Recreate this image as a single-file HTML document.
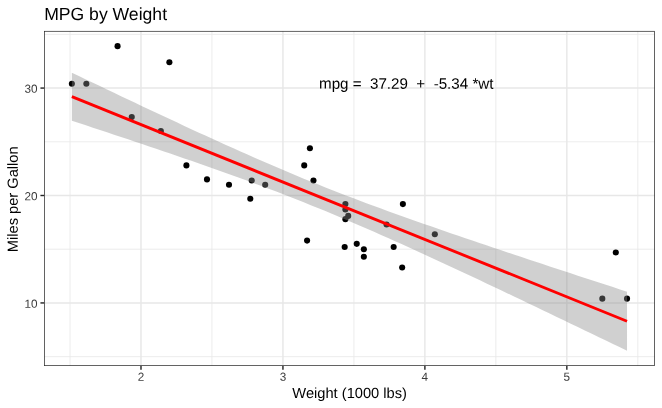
<!DOCTYPE html>
<html><head><meta charset="utf-8"><title>MPG by Weight</title>
<style>html,body{margin:0;padding:0;background:#fff;width:662px;height:408px;overflow:hidden}svg{display:block;will-change:transform;text-rendering:geometricPrecision}</style>
</head><body>
<svg width="662" height="408" viewBox="0 0 662 408" font-family="Liberation Sans, Arial, sans-serif"><rect x="0" y="0" width="662" height="408" fill="#fff"/>
<line x1="70.01" y1="30.94" x2="70.01" y2="366.00" stroke="#E7E7E7" stroke-width="0.8"/>
<line x1="211.96" y1="30.94" x2="211.96" y2="366.00" stroke="#E7E7E7" stroke-width="0.8"/>
<line x1="353.91" y1="30.94" x2="353.91" y2="366.00" stroke="#E7E7E7" stroke-width="0.8"/>
<line x1="495.86" y1="30.94" x2="495.86" y2="366.00" stroke="#E7E7E7" stroke-width="0.8"/>
<line x1="637.81" y1="30.94" x2="637.81" y2="366.00" stroke="#E7E7E7" stroke-width="0.8"/>
<line x1="44.10" y1="356.65" x2="654.78" y2="356.65" stroke="#E7E7E7" stroke-width="0.8"/>
<line x1="44.10" y1="249.22" x2="654.78" y2="249.22" stroke="#E7E7E7" stroke-width="0.8"/>
<line x1="44.10" y1="141.79" x2="654.78" y2="141.79" stroke="#E7E7E7" stroke-width="0.8"/>
<line x1="44.10" y1="34.35" x2="654.78" y2="34.35" stroke="#E7E7E7" stroke-width="0.8"/>
<line x1="140.99" y1="30.94" x2="140.99" y2="366.00" stroke="#E7E7E7" stroke-width="1.42"/>
<line x1="282.94" y1="30.94" x2="282.94" y2="366.00" stroke="#E7E7E7" stroke-width="1.42"/>
<line x1="424.89" y1="30.94" x2="424.89" y2="366.00" stroke="#E7E7E7" stroke-width="1.42"/>
<line x1="566.84" y1="30.94" x2="566.84" y2="366.00" stroke="#E7E7E7" stroke-width="1.42"/>
<line x1="44.10" y1="302.94" x2="654.78" y2="302.94" stroke="#E7E7E7" stroke-width="1.42"/>
<line x1="44.10" y1="195.50" x2="654.78" y2="195.50" stroke="#E7E7E7" stroke-width="1.42"/>
<line x1="44.10" y1="88.07" x2="654.78" y2="88.07" stroke="#E7E7E7" stroke-width="1.42"/>
<circle cx="229.00" cy="184.76" r="3.05" fill="#000"/>
<circle cx="265.19" cy="184.76" r="3.05" fill="#000"/>
<circle cx="186.41" cy="165.42" r="3.05" fill="#000"/>
<circle cx="313.46" cy="180.46" r="3.05" fill="#000"/>
<circle cx="345.39" cy="209.47" r="3.05" fill="#000"/>
<circle cx="348.23" cy="215.91" r="3.05" fill="#000"/>
<circle cx="363.85" cy="256.74" r="3.05" fill="#000"/>
<circle cx="309.91" cy="148.23" r="3.05" fill="#000"/>
<circle cx="304.23" cy="165.42" r="3.05" fill="#000"/>
<circle cx="345.39" cy="204.10" r="3.05" fill="#000"/>
<circle cx="345.39" cy="219.14" r="3.05" fill="#000"/>
<circle cx="434.82" cy="234.18" r="3.05" fill="#000"/>
<circle cx="386.56" cy="224.51" r="3.05" fill="#000"/>
<circle cx="393.66" cy="247.07" r="3.05" fill="#000"/>
<circle cx="602.32" cy="298.64" r="3.05" fill="#000"/>
<circle cx="627.02" cy="298.64" r="3.05" fill="#000"/>
<circle cx="615.81" cy="252.44" r="3.05" fill="#000"/>
<circle cx="169.38" cy="62.28" r="3.05" fill="#000"/>
<circle cx="86.34" cy="83.77" r="3.05" fill="#000"/>
<circle cx="117.57" cy="46.17" r="3.05" fill="#000"/>
<circle cx="206.99" cy="179.39" r="3.05" fill="#000"/>
<circle cx="356.75" cy="243.85" r="3.05" fill="#000"/>
<circle cx="344.68" cy="247.07" r="3.05" fill="#000"/>
<circle cx="402.17" cy="267.48" r="3.05" fill="#000"/>
<circle cx="402.88" cy="204.10" r="3.05" fill="#000"/>
<circle cx="131.76" cy="117.08" r="3.05" fill="#000"/>
<circle cx="160.86" cy="131.04" r="3.05" fill="#000"/>
<circle cx="71.86" cy="83.77" r="3.05" fill="#000"/>
<circle cx="307.07" cy="240.62" r="3.05" fill="#000"/>
<circle cx="250.29" cy="198.72" r="3.05" fill="#000"/>
<circle cx="363.85" cy="249.22" r="3.05" fill="#000"/>
<circle cx="251.71" cy="180.46" r="3.05" fill="#000"/>
<polygon points="71.86,72.66 78.89,76.03 85.91,79.40 92.94,82.76 99.97,86.11 107.00,89.47 114.02,92.81 121.05,96.15 128.08,99.49 135.10,102.82 142.13,106.14 149.16,109.45 156.19,112.76 163.21,116.05 170.24,119.34 177.27,122.62 184.30,125.88 191.32,129.14 198.35,132.38 205.38,135.61 212.41,138.82 219.43,142.01 226.46,145.19 233.49,148.35 240.52,151.49 247.54,154.61 254.57,157.71 261.60,160.78 268.63,163.82 275.65,166.84 282.68,169.83 289.71,172.80 296.73,175.73 303.76,178.63 310.79,181.50 317.82,184.34 324.84,187.15 331.87,189.93 338.90,192.68 345.93,195.40 352.95,198.09 359.98,200.75 367.01,203.38 374.04,205.99 381.06,208.58 388.09,211.14 395.12,213.68 402.15,216.21 409.17,218.71 416.20,221.20 423.23,223.67 430.25,226.12 437.28,228.56 444.31,230.99 451.34,233.41 458.36,235.82 465.39,238.21 472.42,240.60 479.45,242.98 486.47,245.35 493.50,247.71 500.53,250.07 507.56,252.42 514.58,254.76 521.61,257.10 528.64,259.43 535.67,261.76 542.69,264.08 549.72,266.40 556.75,268.72 563.78,271.03 570.80,273.34 577.83,275.64 584.86,277.94 591.88,280.24 598.91,282.54 605.94,284.83 612.97,287.12 619.99,289.41 627.02,291.70 627.02,350.77 619.99,347.37 612.97,343.98 605.94,340.58 598.91,337.19 591.88,333.80 584.86,330.42 577.83,327.03 570.80,323.65 563.78,320.28 556.75,316.90 549.72,313.53 542.69,310.17 535.67,306.80 528.64,303.45 521.61,300.09 514.58,296.75 507.56,293.41 500.53,290.07 493.50,286.74 486.47,283.42 479.45,280.10 472.42,276.80 465.39,273.50 458.36,270.21 451.34,266.93 444.31,263.66 437.28,260.41 430.25,257.16 423.23,253.93 416.20,250.72 409.17,247.52 402.15,244.34 395.12,241.18 388.09,238.03 381.06,234.91 374.04,231.81 367.01,228.74 359.98,225.69 352.95,222.67 345.93,219.67 338.90,216.70 331.87,213.77 324.84,210.86 317.82,207.98 310.79,205.14 303.76,202.32 296.73,199.54 289.71,196.79 282.68,194.07 275.65,191.37 268.63,188.71 261.60,186.07 254.57,183.45 247.54,180.87 240.52,178.30 233.49,175.75 226.46,173.23 219.43,170.72 212.41,168.23 205.38,165.76 198.35,163.30 191.32,160.86 184.30,158.43 177.27,156.01 170.24,153.60 163.21,151.20 156.19,148.81 149.16,146.43 142.13,144.06 135.10,141.70 128.08,139.34 121.05,136.99 114.02,134.65 107.00,132.31 99.97,129.98 92.94,127.65 85.91,125.32 78.89,123.00 71.86,120.69" fill="#898989" fill-opacity="0.4"/>
<line x1="71.86" y1="96.67" x2="627.02" y2="321.23" stroke="#FF0000" stroke-width="2.85"/>
<text transform="translate(406.25,88.7) rotate(0.05)" font-size="15.17" text-anchor="middle" fill="#000" xml:space="preserve">mpg =  37.29  +  -5.34 *wt</text>
<rect x="44.455" y="31.295" width="609.970" height="334.350" fill="none" stroke="#242424" stroke-width="0.71"/>
<line x1="140.99" y1="366.00" x2="140.99" y2="369.67" stroke="#242424" stroke-width="1.42"/>
<text transform="translate(140.99,380.8) rotate(0.05)" font-size="11.73" text-anchor="middle" fill="#3B3B3B">2</text>
<line x1="282.94" y1="366.00" x2="282.94" y2="369.67" stroke="#242424" stroke-width="1.42"/>
<text transform="translate(282.94,380.8) rotate(0.05)" font-size="11.73" text-anchor="middle" fill="#3B3B3B">3</text>
<line x1="424.89" y1="366.00" x2="424.89" y2="369.67" stroke="#242424" stroke-width="1.42"/>
<text transform="translate(424.89,380.8) rotate(0.05)" font-size="11.73" text-anchor="middle" fill="#3B3B3B">4</text>
<line x1="566.84" y1="366.00" x2="566.84" y2="369.67" stroke="#242424" stroke-width="1.42"/>
<text transform="translate(566.84,380.8) rotate(0.05)" font-size="11.73" text-anchor="middle" fill="#3B3B3B">5</text>
<line x1="40.43" y1="302.94" x2="44.10" y2="302.94" stroke="#242424" stroke-width="1.42"/>
<text transform="translate(37.6,307.64) rotate(0.05)" font-size="11.73" text-anchor="end" fill="#3B3B3B">10</text>
<line x1="40.43" y1="195.50" x2="44.10" y2="195.50" stroke="#242424" stroke-width="1.42"/>
<text transform="translate(37.6,200.20) rotate(0.05)" font-size="11.73" text-anchor="end" fill="#3B3B3B">20</text>
<line x1="40.43" y1="88.07" x2="44.10" y2="88.07" stroke="#242424" stroke-width="1.42"/>
<text transform="translate(37.6,92.77) rotate(0.05)" font-size="11.73" text-anchor="end" fill="#3B3B3B">30</text>
<text transform="translate(349.64,398) rotate(0.05)" font-size="14.67" text-anchor="middle" fill="#000">Weight (1000 lbs)</text>
<text transform="translate(17.8,199.27) rotate(-89.95)" font-size="14.67" text-anchor="middle" fill="#000">Miles per Gallon</text>
<text transform="translate(44.15,20) rotate(0.05)" font-size="17.6" fill="#000">MPG by Weight</text></svg>
</body></html>
